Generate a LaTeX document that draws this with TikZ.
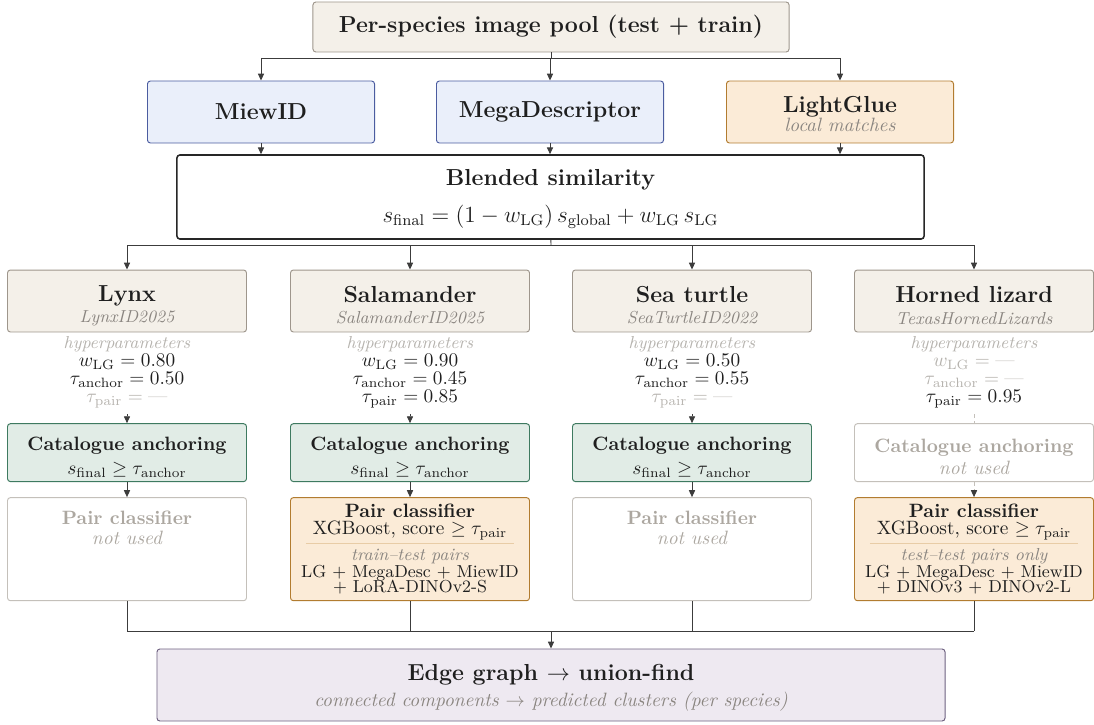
\documentclass[tikz,border=0pt]{standalone}
\usepackage{amsmath, amssymb}
\usepackage{xcolor}
\usepackage{tikz}
\usetikzlibrary{arrows.meta, positioning, calc}
\definecolor{poolfill}{RGB}{244, 240, 233}
\definecolor{poolline}{RGB}{158, 150, 140}
\definecolor{globfill}{RGB}{234, 239, 250}
\definecolor{globline}{RGB}{75, 92, 160}
\definecolor{locfill}{RGB}{251, 235, 215}
\definecolor{locline}{RGB}{178, 124, 48}
\definecolor{ancfill}{RGB}{225, 236, 230}
\definecolor{ancline}{RGB}{62, 122, 96}
\definecolor{edgefill}{RGB}{238, 233, 241}
\definecolor{edgeline}{RGB}{110, 97, 128}
\definecolor{offline}{RGB}{196, 192, 186}
\definecolor{offtext}{RGB}{172, 167, 160}
\definecolor{subtext}{RGB}{138, 133, 128}
\definecolor{hyptext}{RGB}{182, 179, 174}
\definecolor{rulecol}{RGB}{232, 204, 166}
\definecolor{linecol}{RGB}{60, 60, 60}

\begin{document}
\begin{tikzpicture}[x=0.518pt, y=-0.518pt,
    box/.style={draw, rounded corners=1.5pt, line width=0.5pt, align=center, inner sep=2pt, text=black!88},
    poolbox/.style={box, draw=poolline, fill=poolfill},
    globbox/.style={box, draw=globline, fill=globfill},
    locbox/.style={box, draw=locline, fill=locfill},
    ancbox/.style={box, draw=ancline, fill=ancfill},
    offbox/.style={box, draw=offline, fill=white, text=offtext},
    edgebox/.style={box, draw=edgeline, fill=edgefill},
    featbox/.style={minimum width=117.6pt, minimum height=32.1pt},
    colbox/.style={minimum width=123.8pt},
    hyp/.style={align=center, inner sep=0pt, text=black!88},
    offtxt/.style={align=center, inner sep=0pt, text=offtext},
    conn/.style={draw=linecol, line width=0.5pt},
    arr/.style={conn, -{Triangle[length=3.6pt, width=3.2pt]}},
    offconn/.style={draw=offline, line width=0.5pt, dash pattern=on 2pt off 1.5pt},
    offarr/.style={offconn, -{Triangle[length=3.6pt, width=3.2pt, color=linecol]}}]

    \useasboundingbox (0,0) rectangle (1094,725);

    % 顶部图像池
    \node[poolbox, minimum width=246.6pt, minimum height=25.9pt, font=\large\bfseries] (pool) at (551,27) {Per-species image pool (test + train)};

    % 特征提取
    \node[globbox, featbox, font=\large\bfseries] (miew) at (261,112) {MiewID};
    \node[globbox, featbox, font=\large\bfseries] (mega) at (550,112) {MegaDescriptor};
    \node[locbox, featbox] (lg) at (840,112) {\rule{0pt}{10.3pt}{\large\bfseries LightGlue}\\[-2.4pt]{\itshape\color{subtext} local matches}};

    \coordinate (fan) at (551,58);
    \draw[conn] (pool) -- (fan);
    \draw[conn] (miew |- fan) -- (lg |- fan);
    \foreach \n in {miew, mega, lg} {
        \draw[arr] (\n |- fan) -- (\n);
    }

    % 融合相似度
    \node[box, draw=black!85, line width=0.8pt, fill=white, minimum width=387pt, minimum height=43.5pt] (blend) at (550.5,197) {\rule{0pt}{10.5pt}{\large\bfseries Blended similarity}\\[7pt]{\large $s_{\mathrm{final}} = (1 - w_{\mathrm{LG}})\, s_{\mathrm{global}} + w_{\mathrm{LG}}\, s_{\mathrm{LG}}$}};
    \foreach \n in {miew, mega, lg} {
        \draw[arr] (\n) -- (\n |- blend.north);
    }

    % 物种分支
    \coordinate (split) at (551,245);
    \draw[conn] (blend) -- (split);
    \foreach \i/\x/\sp/\ds in {1/127/Lynx/LynxID2025, 2/410/Salamander/SalamanderID2025, 3/692/Sea turtle/SeaTurtleID2022, 4/974/Horned lizard/TexasHornedLizards} {
        \node[poolbox, colbox, minimum height=32.1pt] (sp\i) at (\x,301) {\rule{0pt}{13pt}{\large\bfseries \sp}\\[-1pt]{\small\itshape\color{subtext}\ds}};
        \draw[arr] (sp\i |- split) -- (sp\i);
    }
    \draw[conn] (sp1 |- split) -- (sp4 |- split);

    % 超参数
    \node[hyp, below=2pt of sp1] (hp1) {{\small\itshape\color{hyptext} hyperparameters}\\[-2.7pt]$w_{\mathrm{LG}} = 0.80$\\[-2.7pt]$\tau_{\mathrm{anchor}} = 0.50$\\[-2.7pt]{\color{hyptext}$\tau_{\mathrm{pair}} = \text{---}$}};
    \node[hyp, below=2pt of sp2] (hp2) {{\small\itshape\color{hyptext} hyperparameters}\\[-2.7pt]$w_{\mathrm{LG}} = 0.90$\\[-2.7pt]$\tau_{\mathrm{anchor}} = 0.45$\\[-2.7pt]$\tau_{\mathrm{pair}} = 0.85$};
    \node[hyp, below=2pt of sp3] (hp3) {{\small\itshape\color{hyptext} hyperparameters}\\[-2.7pt]$w_{\mathrm{LG}} = 0.50$\\[-2.7pt]$\tau_{\mathrm{anchor}} = 0.55$\\[-2.7pt]{\color{hyptext}$\tau_{\mathrm{pair}} = \text{---}$}};
    \node[hyp, below=2pt of sp4] (hp4) {{\small\itshape\color{hyptext} hyperparameters}\\[-2.7pt]{\color{hyptext}$w_{\mathrm{LG}} = \text{---}$}\\[-2.7pt]{\color{hyptext}$\tau_{\mathrm{anchor}} = \text{---}$}\\[-2.7pt]$\tau_{\mathrm{pair}} = 0.95$};

    % 目录锚定
    \foreach \i in {1,2,3} {
        \node[ancbox, colbox, minimum height=30pt, below=47pt of sp\i] (cat\i) {\rule{0pt}{12pt}{\bfseries Catalogue anchoring}\\[0.4pt]$s_{\mathrm{final}} \geq \tau_{\mathrm{anchor}}$};
        \draw[arr, shorten <=3pt] (hp\i) -- (cat\i);
    }
    \node[offbox, colbox, minimum height=30pt, below=47pt of sp4] (cat4) {\rule{0pt}{11pt}{\bfseries Catalogue anchoring}\\[-0.5pt]{\itshape not used}};
    \draw[offconn, shorten <=3pt] (hp4) -- (cat4);

    % 配对分类器
    \node[offbox, colbox, minimum height=53.4pt, below=7.8pt of cat1] (pair1) {};
    \node[offtxt, below=7pt of pair1.north] (pair1t) {{\bfseries Pair classifier}\\[-1.5pt]{\itshape not used}};
    \node[offbox, colbox, minimum height=53.4pt, below=7.8pt of cat3] (pair3) {};
    \node[offtxt, below=7pt of pair3.north] (pair3t) {{\bfseries Pair classifier}\\[-1.5pt]{\itshape not used}};
    \node[locbox, colbox, minimum height=53.4pt, below=7.8pt of cat2] (pair2) {{\bfseries Pair classifier}\\[-3pt]XGBoost, score $\geq \tau_{\mathrm{pair}}$\\[-7.3pt]{\color{rulecol}\rule{108pt}{0.5pt}}\\[-3.4pt]{\small\itshape\color{subtext} train--test pairs}\\[-3.4pt]{\small LG + MegaDesc + MiewID}\\[-4pt]{\small + LoRA-DINOv2-S}};
    \node[locbox, colbox, minimum height=53.4pt, below=7.8pt of cat4] (pair4) {{\bfseries Pair classifier}\\[-3pt]XGBoost, score $\geq \tau_{\mathrm{pair}}$\\[-7.3pt]{\color{rulecol}\rule{108pt}{0.5pt}}\\[-3.4pt]{\small\itshape\color{subtext} test--test pairs only}\\[-3.4pt]{\small LG + MegaDesc + MiewID}\\[-4pt]{\small + DINOv3 + DINOv2-L}};
    \foreach \i in {1,2,3} {
        \draw[arr] (cat\i) -- (pair\i);
    }
    \draw[offarr] (cat4) -- (pair4);

    % 合并
    \node[edgebox, minimum width=408.2pt, minimum height=37.3pt] (edge) at (551,685) {\rule{0pt}{11.5pt}{\large\bfseries Edge graph $\rightarrow$ union-find}\\[1.5pt]{\itshape\color{subtext} connected components $\rightarrow$ predicted clusters (per species)}};
    \coordinate (merge) at (551,631);
    \foreach \i in {1,...,4} {
        \draw[conn] (pair\i) -- (pair\i |- merge);
    }
    \draw[conn] (pair1 |- merge) -- (pair4 |- merge);
    \draw[arr] (merge) -- (edge);
\end{tikzpicture}
\end{document}
